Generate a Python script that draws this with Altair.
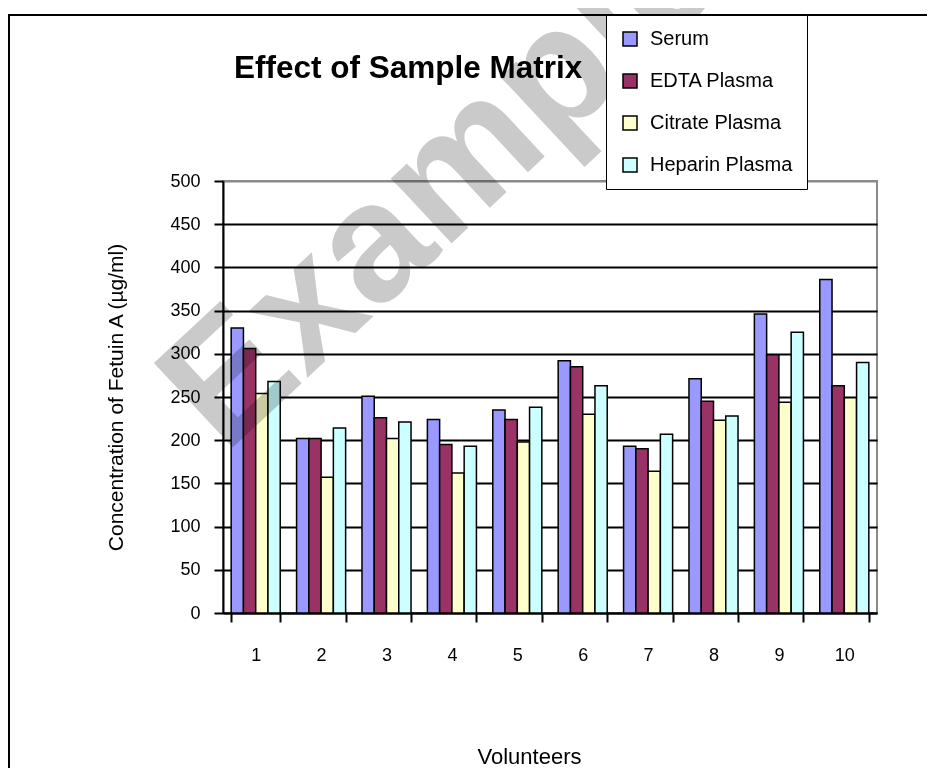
import altair as alt
import pandas as pd

volunteers = ["1", "2", "3", "4", "5", "6", "7", "8", "9", "10"]
series = ["Serum", "EDTA Plasma", "Citrate Plasma", "Heparin Plasma"]
colors = ["#9999FF", "#993366", "#FFFFCC", "#CCFFFF"]
serum = [330, 202, 251, 224, 235, 292, 193, 271, 346, 386]
edta = [306, 202, 226, 195, 224, 285, 190, 245, 299, 263]
citrate = [254, 157, 202, 162, 198, 230, 164, 223, 244, 249]
heparin = [268, 214, 221, 193, 238, 263, 207, 228, 325, 290]
chart_title = "Effect of Sample Matrix"
watermark_text = "Example"

rows = []
for name, vals in zip(series, [serum, edta, citrate, heparin]):
    for v, val in zip(volunteers, vals):
        rows.append({"Volunteer": v, "Sample": name, "Value": val})
df = pd.DataFrame(rows)

W, H = 654, 432
FONT = "Liberation Sans"

bars = alt.Chart(df).mark_bar(stroke="black", strokeWidth=1.5).encode(
    x=alt.X("Volunteer:N", sort=volunteers,
            scale=alt.Scale(paddingInner=0.25, paddingOuter=0.125),
            axis=alt.Axis(title="Volunteers", labelAngle=0, labelFontSize=18,
                          labelPadding=24, tickBand="extent", tickSize=9,
                          tickWidth=2, tickColor="black", domainColor="black",
                          domainWidth=2, titleFontSize=22, titleFontWeight="normal",
                          titleX=306, titleY=150, titleBaseline="alphabetic",
                          titleAlign="center", grid=False, labelColor="black",
                          titleColor="black")),
    xOffset=alt.XOffset("Sample:N", sort=series, scale=alt.Scale(paddingInner=0, paddingOuter=0)),
    y=alt.Y("Value:Q", scale=alt.Scale(domain=[0, 500], nice=False),
            axis=alt.Axis(title="Concentration of Fetuin A (µg/ml)", values=list(range(0, 501, 50)),
                          labelFontSize=18, labelPadding=14, tickSize=9, tickWidth=2,
                          tickColor="black", domainColor="black", domainWidth=2,
                          gridColor=alt.condition("datum.value == 500", alt.value("#8a8a8a"), alt.value("black")),
                          gridWidth=2, titleFontSize=21, titleFontWeight="normal",
                          titleX=-101, titleY=216, titleBaseline="alphabetic",
                          titleAlign="center", titleAngle=270, labelColor="black",
                          titleColor="black")),
    color=alt.Color("Sample:N", sort=series,
                    scale=alt.Scale(domain=series, range=colors),
                    legend=alt.Legend(title=None, orient="none", legendX=383, legendY=-166,
                                      symbolType="square", symbolSize=196,
                                      symbolStrokeColor="black", symbolStrokeWidth=1.5,
                                      labelFontSize=20, labelOffset=10, rowPadding=22,
                                      padding=14, strokeColor="black", fillColor="white",
                                      labelColor="black")),
)

one = pd.DataFrame({"k": [0]})

frame = alt.Chart(one).mark_rect(fill="white", fillOpacity=0, stroke="black", strokeWidth=2).encode(
    x=alt.value(-214), x2=alt.value(W + 80), y=alt.value(-166), y2=alt.value(H + 200)
)

title = alt.Chart(one).mark_text(
    text=chart_title, font=FONT, fontSize=31.5, fontWeight="bold", color="black",
    align="left", baseline="alphabetic"
).encode(x=alt.value(11), y=alt.value(-103))

watermark = alt.Chart(one).mark_text(
    text=watermark_text, font=FONT, fontSize=168, fontWeight="bold", angle=317,
    color="#cacaca", blend="multiply", align="center", baseline="middle"
).encode(x=alt.value(220), y=alt.value(2))

chart = alt.layer(frame, title, bars, watermark).properties(
    width=W, height=H,
    autosize=alt.AutoSizeParams(type="none"),
    padding={"left": 215, "top": 173, "right": 50, "bottom": 155},
).configure(font=FONT).configure_view(stroke="#8a8a8a", strokeWidth=2)

chart.save("out.html", embed_options={"renderer": "svg", "actions": False})
